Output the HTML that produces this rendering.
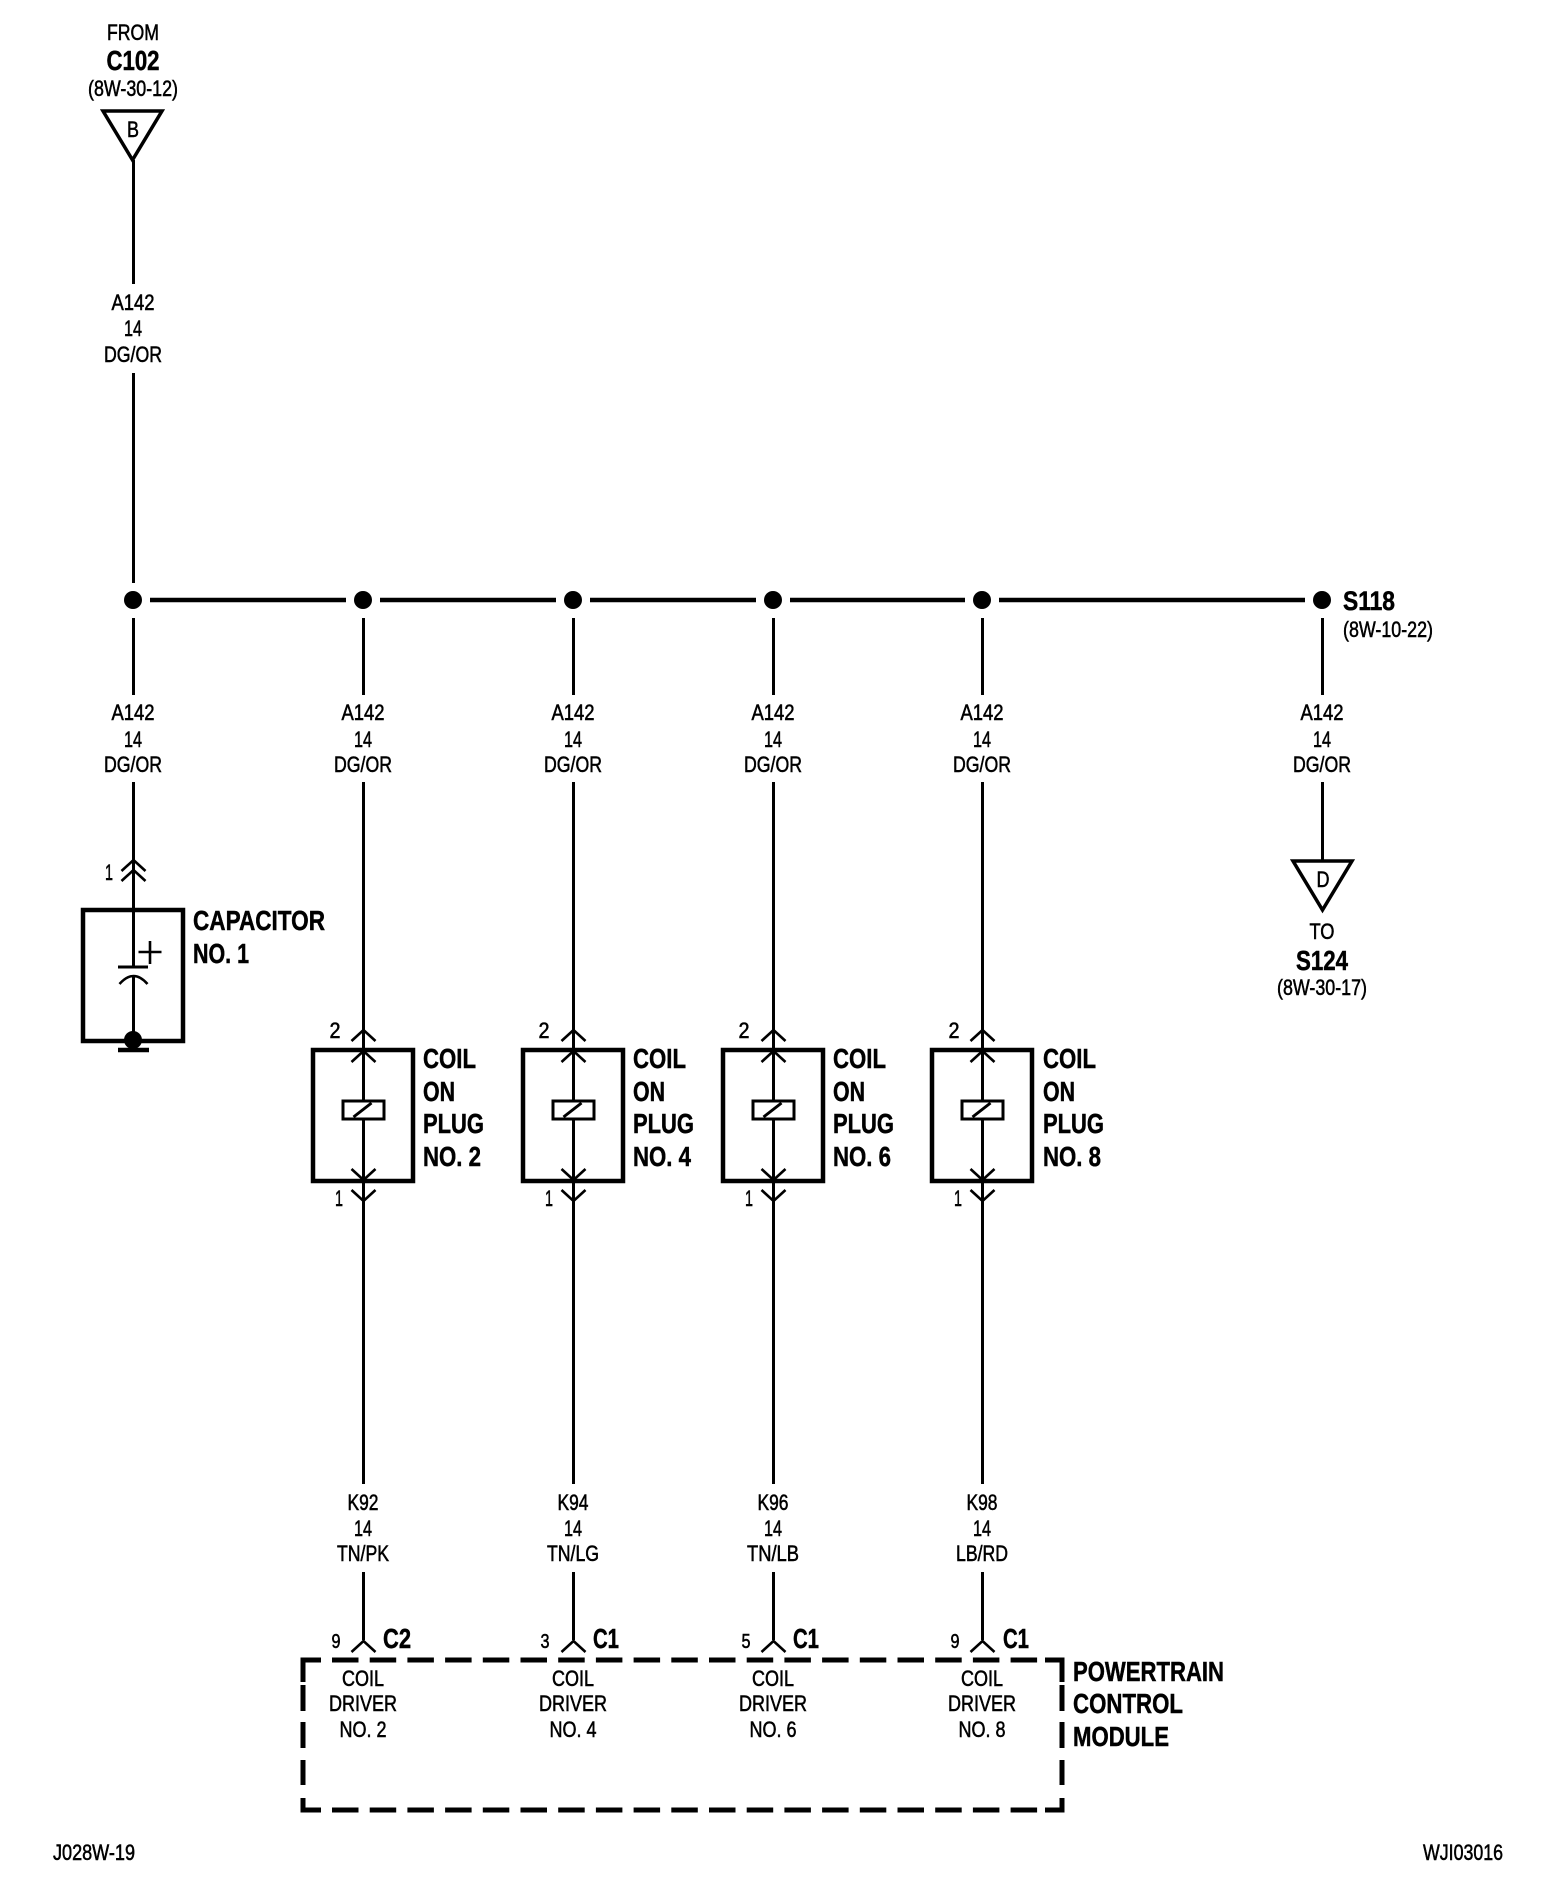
<!DOCTYPE html>
<html><head><meta charset="utf-8"><style>
html,body{margin:0;padding:0;background:#fff}
svg{display:block}
text{font-family:"Liberation Sans",sans-serif;fill:#000;font-size:22px;text-anchor:middle;stroke:#000;stroke-width:.55px;transform:translateY(-1px)}
.b{font-weight:bold;font-size:28px;stroke-width:.5px;transform:none}
.l{text-anchor:start}
.w{fill:none;stroke:#000;stroke-width:3;transform:translateX(.5px)}
.c{fill:none;stroke:#000;stroke-width:2.6;transform:translateX(.5px)}
</style></head><body>
<svg xmlns="http://www.w3.org/2000/svg" width="1568" height="1902" viewBox="0 0 1568 1902">
<defs>
<g id="coil">
<path class="w" d="M0 782V1200M0 1572V1640"/>
<path class="c" d="M-12 1041L0 1030L12 1041M-12 1062L0 1051L12 1062M-12 1169L0 1180L12 1169M-12 1190L0 1201L12 1190M-12 1652L0 1641L12 1652"/>
<rect x="-50" y="1050" width="100" height="131" fill="none" stroke="#000" stroke-width="4.5"/>
<rect x="-20" y="1101" width="41" height="18" fill="#fff" stroke="#000" stroke-width="3"/>
<path class="w" d="M-10 1117L8 1103"/>
</g>
<g id="hub">
<circle cx="0" cy="600" r="9"/>
<path class="w" d="M0 618V695"/>
</g>
</defs>

<!-- top feed -->
<text x="133" y="41" textLength="52" lengthAdjust="spacingAndGlyphs">FROM</text>
<text class="b" x="133" y="70" textLength="53" lengthAdjust="spacingAndGlyphs">C102</text>
<text x="133" y="97" textLength="90" lengthAdjust="spacingAndGlyphs">(8W-30-12)</text>
<path d="M103 111H162L132.500 160Z" fill="none" stroke="#000" stroke-width="3.500"/>
<text x="133" y="138" textLength="12" lengthAdjust="spacingAndGlyphs">B</text>
<path class="w" d="M133 160V284M133 373V583"/>
<text x="133" y="311" textLength="43" lengthAdjust="spacingAndGlyphs">A142</text>
<text x="133" y="337" textLength="18" lengthAdjust="spacingAndGlyphs">14</text>
<text x="133" y="363" textLength="58" lengthAdjust="spacingAndGlyphs">DG/OR</text>

<!-- bus -->
<path d="M150 600H346M380 600H556M590 600H756M790 600H965M999 600H1305" fill="none" stroke="#000" stroke-width="4.500"/>
<use href="#hub" x="133"/><use href="#hub" x="363"/><use href="#hub" x="573"/><use href="#hub" x="773"/><use href="#hub" x="982"/><use href="#hub" x="1322"/>
<text class="b l" x="1343" y="610" textLength="52" lengthAdjust="spacingAndGlyphs" style="font-size:27px">S118</text>
<text class="l" x="1343" y="638" textLength="90" lengthAdjust="spacingAndGlyphs">(8W-10-22)</text>

<!-- wire labels upper -->
<g>
<text x="133" y="721" textLength="43" lengthAdjust="spacingAndGlyphs">A142</text><text x="133" y="748" textLength="18" lengthAdjust="spacingAndGlyphs">14</text><text x="133" y="773" textLength="58" lengthAdjust="spacingAndGlyphs">DG/OR</text>
<text x="363" y="721" textLength="43" lengthAdjust="spacingAndGlyphs">A142</text><text x="363" y="748" textLength="18" lengthAdjust="spacingAndGlyphs">14</text><text x="363" y="773" textLength="58" lengthAdjust="spacingAndGlyphs">DG/OR</text>
<text x="573" y="721" textLength="43" lengthAdjust="spacingAndGlyphs">A142</text><text x="573" y="748" textLength="18" lengthAdjust="spacingAndGlyphs">14</text><text x="573" y="773" textLength="58" lengthAdjust="spacingAndGlyphs">DG/OR</text>
<text x="773" y="721" textLength="43" lengthAdjust="spacingAndGlyphs">A142</text><text x="773" y="748" textLength="18" lengthAdjust="spacingAndGlyphs">14</text><text x="773" y="773" textLength="58" lengthAdjust="spacingAndGlyphs">DG/OR</text>
<text x="982" y="721" textLength="43" lengthAdjust="spacingAndGlyphs">A142</text><text x="982" y="748" textLength="18" lengthAdjust="spacingAndGlyphs">14</text><text x="982" y="773" textLength="58" lengthAdjust="spacingAndGlyphs">DG/OR</text>
<text x="1322" y="721" textLength="43" lengthAdjust="spacingAndGlyphs">A142</text><text x="1322" y="748" textLength="18" lengthAdjust="spacingAndGlyphs">14</text><text x="1322" y="773" textLength="58" lengthAdjust="spacingAndGlyphs">DG/OR</text>
</g>

<!-- capacitor -->
<path class="w" d="M133 782V967M133 976V1040"/>
<path class="c" d="M121 871L133 860L145 871M121 881L133 870L145 881"/>
<text x="109" y="881" textLength="8" lengthAdjust="spacingAndGlyphs">1</text>
<rect x="83" y="910" width="100" height="131" fill="none" stroke="#000" stroke-width="4.500"/>
<path class="c" d="M138 952H161M149.500 941V964"/>
<path d="M118 967H148" stroke="#000" stroke-width="3" fill="none"/>
<path class="c" d="M119 984Q133 968 147 984"/>
<circle cx="133" cy="1040" r="9"/>
<path d="M118 1050H149" stroke="#000" stroke-width="4.500" fill="none"/>
<text class="b l" x="193" y="930" textLength="132" lengthAdjust="spacingAndGlyphs">CAPACITOR</text>
<text class="b l" x="193" y="963" textLength="56" lengthAdjust="spacingAndGlyphs">NO. 1</text>

<!-- S124 -->
<path class="w" d="M1322 782V860"/>
<path d="M1293 861H1352L1322.500 910Z" fill="#fff" stroke="#000" stroke-width="3.500"/>
<text x="1323" y="888" textLength="13" lengthAdjust="spacingAndGlyphs">D</text>
<text x="1322" y="940" textLength="25" lengthAdjust="spacingAndGlyphs">TO</text>
<text class="b" x="1322" y="970" textLength="52" lengthAdjust="spacingAndGlyphs">S124</text>
<text x="1322" y="996" textLength="90" lengthAdjust="spacingAndGlyphs">(8W-30-17)</text>

<!-- coils -->
<use href="#coil" x="363"/><use href="#coil" x="573"/><use href="#coil" x="773"/><use href="#coil" x="982"/>

<text x="335" y="1039" textLength="11" lengthAdjust="spacingAndGlyphs">2</text><text x="339" y="1207" textLength="8" lengthAdjust="spacingAndGlyphs">1</text>
<text x="544" y="1039" textLength="11" lengthAdjust="spacingAndGlyphs">2</text><text x="549" y="1207" textLength="8" lengthAdjust="spacingAndGlyphs">1</text>
<text x="744" y="1039" textLength="11" lengthAdjust="spacingAndGlyphs">2</text><text x="749" y="1207" textLength="8" lengthAdjust="spacingAndGlyphs">1</text>
<text x="954" y="1039" textLength="11" lengthAdjust="spacingAndGlyphs">2</text><text x="958" y="1207" textLength="8" lengthAdjust="spacingAndGlyphs">1</text>

<text class="b l" x="423" y="1068" textLength="53" lengthAdjust="spacingAndGlyphs">COIL</text><text class="b l" x="423" y="1101" textLength="32" lengthAdjust="spacingAndGlyphs">ON</text><text class="b l" x="423" y="1133" textLength="61" lengthAdjust="spacingAndGlyphs">PLUG</text><text class="b l" x="423" y="1166" textLength="58" lengthAdjust="spacingAndGlyphs">NO. 2</text>
<text class="b l" x="633" y="1068" textLength="53" lengthAdjust="spacingAndGlyphs">COIL</text><text class="b l" x="633" y="1101" textLength="32" lengthAdjust="spacingAndGlyphs">ON</text><text class="b l" x="633" y="1133" textLength="61" lengthAdjust="spacingAndGlyphs">PLUG</text><text class="b l" x="633" y="1166" textLength="58" lengthAdjust="spacingAndGlyphs">NO. 4</text>
<text class="b l" x="833" y="1068" textLength="53" lengthAdjust="spacingAndGlyphs">COIL</text><text class="b l" x="833" y="1101" textLength="32" lengthAdjust="spacingAndGlyphs">ON</text><text class="b l" x="833" y="1133" textLength="61" lengthAdjust="spacingAndGlyphs">PLUG</text><text class="b l" x="833" y="1166" textLength="58" lengthAdjust="spacingAndGlyphs">NO. 6</text>
<text class="b l" x="1043" y="1068" textLength="53" lengthAdjust="spacingAndGlyphs">COIL</text><text class="b l" x="1043" y="1101" textLength="32" lengthAdjust="spacingAndGlyphs">ON</text><text class="b l" x="1043" y="1133" textLength="61" lengthAdjust="spacingAndGlyphs">PLUG</text><text class="b l" x="1043" y="1166" textLength="58" lengthAdjust="spacingAndGlyphs">NO. 8</text>

<!-- lower wire labels -->
<text x="363" y="1511" textLength="31" lengthAdjust="spacingAndGlyphs">K92</text><text x="363" y="1537" textLength="18" lengthAdjust="spacingAndGlyphs">14</text><text x="363" y="1562" textLength="52" lengthAdjust="spacingAndGlyphs">TN/PK</text>
<text x="573" y="1511" textLength="31" lengthAdjust="spacingAndGlyphs">K94</text><text x="573" y="1537" textLength="18" lengthAdjust="spacingAndGlyphs">14</text><text x="573" y="1562" textLength="52" lengthAdjust="spacingAndGlyphs">TN/LG</text>
<text x="773" y="1511" textLength="31" lengthAdjust="spacingAndGlyphs">K96</text><text x="773" y="1537" textLength="18" lengthAdjust="spacingAndGlyphs">14</text><text x="773" y="1562" textLength="52" lengthAdjust="spacingAndGlyphs">TN/LB</text>
<text x="982" y="1511" textLength="31" lengthAdjust="spacingAndGlyphs">K98</text><text x="982" y="1537" textLength="18" lengthAdjust="spacingAndGlyphs">14</text><text x="982" y="1562" textLength="52" lengthAdjust="spacingAndGlyphs">LB/RD</text>

<!-- wires from coil down to labels -->
<path class="w" d="M363 1200V1484M573 1200V1484M773 1200V1484M982 1200V1484"/>

<!-- pins -->
<text x="336" y="1649" textLength="9" lengthAdjust="spacingAndGlyphs" style="font-size:20px">9</text><text class="b l" x="383" y="1648" textLength="28" lengthAdjust="spacingAndGlyphs">C2</text>
<text x="545" y="1649" textLength="9" lengthAdjust="spacingAndGlyphs" style="font-size:20px">3</text><text class="b l" x="593" y="1648" textLength="26" lengthAdjust="spacingAndGlyphs">C1</text>
<text x="746" y="1649" textLength="9" lengthAdjust="spacingAndGlyphs" style="font-size:20px">5</text><text class="b l" x="793" y="1648" textLength="26" lengthAdjust="spacingAndGlyphs">C1</text>
<text x="955" y="1649" textLength="9" lengthAdjust="spacingAndGlyphs" style="font-size:20px">9</text><text class="b l" x="1003" y="1648" textLength="26" lengthAdjust="spacingAndGlyphs">C1</text>

<!-- PCM dashed box -->
<path d="M321 1660H303V1682M303 1685V1711M303 1722V1748M303 1760V1785M303 1798V1810H321" fill="none" stroke="#000" stroke-width="5"/>
<path d="M332 1660H1045M332 1810H1045" fill="none" stroke="#000" stroke-width="5" stroke-dasharray="26.500 11.200"/>
<path d="M1045 1660H1062V1682M1062 1685V1711M1062 1722V1748M1062 1760V1785M1062 1798V1810H1045" fill="none" stroke="#000" stroke-width="5"/>

<text x="363" y="1687" textLength="42" lengthAdjust="spacingAndGlyphs">COIL</text><text x="363" y="1712" textLength="68" lengthAdjust="spacingAndGlyphs">DRIVER</text><text x="363" y="1738" textLength="47" lengthAdjust="spacingAndGlyphs">NO. 2</text>
<text x="573" y="1687" textLength="42" lengthAdjust="spacingAndGlyphs">COIL</text><text x="573" y="1712" textLength="68" lengthAdjust="spacingAndGlyphs">DRIVER</text><text x="573" y="1738" textLength="47" lengthAdjust="spacingAndGlyphs">NO. 4</text>
<text x="773" y="1687" textLength="42" lengthAdjust="spacingAndGlyphs">COIL</text><text x="773" y="1712" textLength="68" lengthAdjust="spacingAndGlyphs">DRIVER</text><text x="773" y="1738" textLength="47" lengthAdjust="spacingAndGlyphs">NO. 6</text>
<text x="982" y="1687" textLength="42" lengthAdjust="spacingAndGlyphs">COIL</text><text x="982" y="1712" textLength="68" lengthAdjust="spacingAndGlyphs">DRIVER</text><text x="982" y="1738" textLength="47" lengthAdjust="spacingAndGlyphs">NO. 8</text>

<text class="b l" x="1073" y="1681" textLength="151" lengthAdjust="spacingAndGlyphs">POWERTRAIN</text>
<text class="b l" x="1073" y="1713" textLength="110" lengthAdjust="spacingAndGlyphs">CONTROL</text>
<text class="b l" x="1073" y="1746" textLength="96" lengthAdjust="spacingAndGlyphs">MODULE</text>

<text class="l" x="53" y="1861" textLength="82" lengthAdjust="spacingAndGlyphs">J028W-19</text>
<text class="l" x="1423" y="1861" textLength="80" lengthAdjust="spacingAndGlyphs">WJI03016</text>
</svg>
</body></html>
